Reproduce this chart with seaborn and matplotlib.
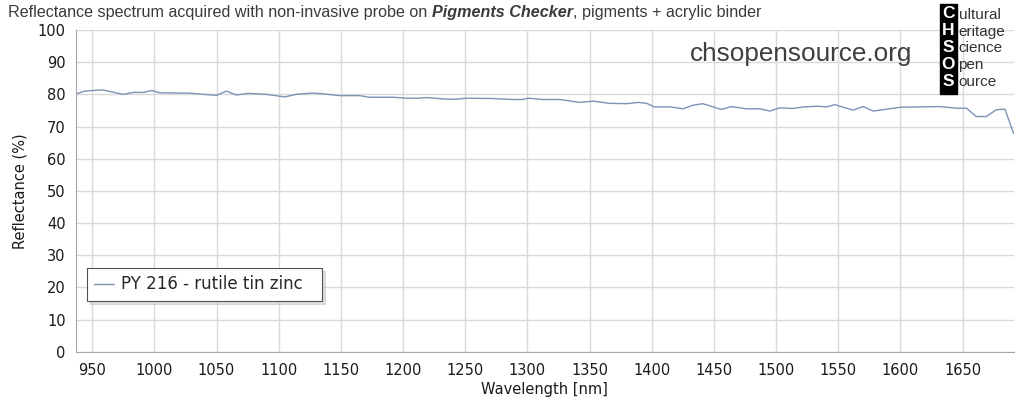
import pandas as pd
import matplotlib
matplotlib.use('Agg')
import matplotlib.pyplot as plt
from matplotlib.ticker import MultipleLocator
import seaborn as sns

# values
wavelength = [936, 944, 958, 975, 983, 991, 998, 1004, 1018, 1028, 1036, 1050, 1058, 1066,
              1076, 1090, 1105, 1114, 1127, 1135, 1149, 1165, 1173, 1192, 1203, 1213, 1219,
              1235, 1243, 1251, 1272, 1288, 1296, 1301, 1312, 1326, 1342, 1353, 1366, 1380,
              1389, 1396, 1402, 1415, 1425, 1433, 1441, 1456, 1464, 1476, 1487, 1495, 1503,
              1513, 1522, 1533, 1541, 1547, 1554, 1562, 1570, 1578, 1589, 1600, 1616, 1632,
              1645, 1653, 1661, 1669, 1677, 1684, 1691]
reflectance = [80.0, 81.0, 81.4, 80.0, 80.6, 80.6, 81.2, 80.5, 80.4, 80.4, 80.1, 79.7, 81.0, 79.8,
               80.3, 80.0, 79.2, 80.0, 80.4, 80.2, 79.6, 79.6, 79.1, 79.1, 78.8, 78.8, 79.0,
               78.5, 78.5, 78.8, 78.7, 78.4, 78.4, 78.8, 78.4, 78.4, 77.5, 77.9, 77.2, 77.1,
               77.5, 77.2, 76.1, 76.1, 75.5, 76.6, 77.1, 75.3, 76.2, 75.5, 75.5, 74.8, 75.8,
               75.6, 76.1, 76.3, 76.1, 76.8, 76.0, 75.1, 76.2, 74.8, 75.4, 76.0, 76.1, 76.2,
               75.7, 75.7, 73.1, 73.1, 75.2, 75.4, 67.8]
sample_name = 'PY 216 - rutile tin zinc'
logo_initials = ['C', 'H', 'S', 'O', 'S']
logo_words = ['ultural', 'eritage', 'cience', 'pen', 'ource']

sns.set_style('white')
plt.rcParams['font.family'] = ['DejaVu Sans']

df = pd.DataFrame({'Wavelength': wavelength, 'Reflectance': reflectance, 'Sample': sample_name})

fig = plt.figure(figsize=(10.24, 4.15), dpi=100)
ax = fig.add_axes([0.0742, 0.1525, 0.9157, 0.7752])

sns.lineplot(x='Wavelength', y='Reflectance', hue='Sample', data=df, ax=ax,
             palette=['#7d93b6'], linewidth=1.0)

ax.set_xlim(937, 1691)
ax.set_ylim(0, 100)
ax.xaxis.set_major_locator(MultipleLocator(50))
ax.xaxis.set_minor_locator(MultipleLocator(10))
ax.yaxis.set_major_locator(MultipleLocator(10))
ax.yaxis.set_minor_locator(MultipleLocator(2))
ax.grid(True, which='major', color='#d9d9d9', linewidth=1.0)
ax.set_axisbelow(True)
for side in ['top', 'right']:
    ax.spines[side].set_visible(False)
for side in ['left', 'bottom']:
    ax.spines[side].set_color('#a6a6a6')
ax.tick_params(which='both', direction='out', colors='#a6a6a6', labelcolor='#1a1a1a',
               labelsize=10.5)
ax.tick_params(which='major', length=4, width=1)
ax.tick_params(which='minor', length=2.5, width=0.8)
ax.tick_params(axis='x', which='major', length=0, pad=8)
ax.set_xlabel('Wavelength [nm]', fontsize=10.5, color='#1a1a1a', labelpad=3)
ax.set_ylabel('Reflectance (%)', fontsize=10.5, color='#1a1a1a', labelpad=7)

# legend box stretched to the width it has in the reference
leg = ax.legend(loc='lower left', bbox_to_anchor=(0.0117, 0.158, 0.2506, 0.1), mode='expand',
                fontsize=12, title=None, fancybox=False,
                shadow={'color': '#c8c8c8', 'alpha': 0.6},
                framealpha=1, edgecolor='#505050',
                handlelength=1.2, handletextpad=0.4, borderpad=0.45, borderaxespad=0)
leg.get_frame().set_linewidth(0.8)

# title built from three pieces so the middle one can be bold italic
renderer = fig.canvas.get_renderer()
pieces = [('Reflectance spectrum acquired with non-invasive probe on ', 'normal', 'normal'),
          ('Pigments Checker', 'bold', 'italic'),
          (', pigments + acrylic binder', 'normal', 'normal')]
x_px = 8
for txt, weight, style in pieces:
    t = fig.text(x_px / 1024, 1 - 17 / 415, txt, fontsize=11.6, color='#3a3a3a',
                 family='Liberation Sans', fontweight=weight, fontstyle=style)
    x_px = t.get_window_extent(renderer).x1

fig.text(690 / 1024, 1 - 61 / 415, 'chsopensource.org', fontsize=18.8, color='#3f3f3f',
         family='Liberation Sans')

# CHSOS logo
fig.patches.append(plt.Rectangle((940 / 1024, 1 - 94 / 415), 17 / 1024, 90 / 415,
                                 transform=fig.transFigure, color='black', zorder=5))
for i, (cap, word) in enumerate(zip(logo_initials, logo_words)):
    yc = 1 - (14 + i * 16.8) / 415
    fig.text(948.5 / 1024, yc, cap, ha='center', va='center', fontsize=12.5,
             fontweight='bold', color='white', family='Liberation Sans', zorder=6)
    fig.text(958.5 / 1024, yc - 0.002, word, ha='left', va='center', fontsize=11,
             color='#333333', family='Liberation Sans', zorder=6)

fig.savefig('out.png', dpi=100)
